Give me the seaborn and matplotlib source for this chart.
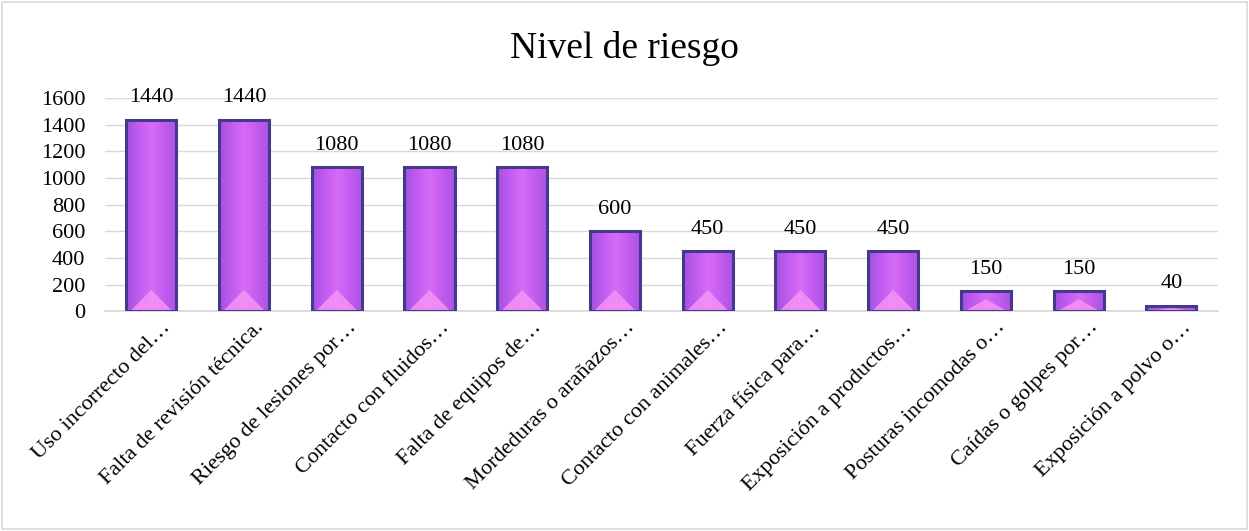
import numpy as np
import pandas as pd
import matplotlib
matplotlib.use("Agg")
import matplotlib.pyplot as plt
import matplotlib.transforms as mtransforms
from matplotlib.colors import LinearSegmentedColormap
import seaborn as sns

categories = [
    "Uso incorrecto del…",
    "Falta de revisión técnica.",
    "Riesgo de lesiones por…",
    "Contacto con fluidos…",
    "Falta de equipos de…",
    "Mordeduras o arañazos…",
    "Contacto con animales…",
    "Fuerza física para…",
    "Exposición a productos…",
    "Posturas incomodas o…",
    "Caídas o golpes por…",
    "Exposición a polvo o…",
]
values = [1440, 1440, 1080, 1080, 1080, 600, 450, 450, 450, 150, 150, 40]
title = "Nivel de riesgo"

df = pd.DataFrame({"riesgo": categories, "nivel": values})

sns.set_theme(style="white")
plt.rcParams["font.family"] = ["Liberation Serif", "DejaVu Serif"]
plt.rcParams["text.color"] = "black"

fig = plt.figure(figsize=(12.49, 5.31), dpi=100)
ax = fig.add_axes([0.084, 0.414, 0.891, 0.401])

sns.barplot(data=df, x="riesgo", y="nivel", color="#c45cf0", width=0.54,
            edgecolor="#45398c", linewidth=2.2, saturation=1, ax=ax, zorder=3)

ax.set_ylim(0, 1600)
ax.set_xlim(-0.5, len(categories) - 0.5)

# soft bevel look of the Excel bars: light centre, pink wedge at the base
grad = LinearSegmentedColormap.from_list(
    "bar", ["#9f52e2", "#c35cf0", "#d66cf6", "#c45cf0", "#a655e4"])
g = np.linspace(0, 1, 64).reshape(1, -1)
for bar in ax.patches:
    x0, y0 = bar.get_x(), bar.get_y()
    w, h = bar.get_width(), bar.get_height()
    im = ax.imshow(g, cmap=grad, aspect="auto", extent=(x0, x0 + w, y0, y0 + h),
                   zorder=3.5, interpolation="bicubic")
    im.set_clip_path(bar)
    tri_h = min(h * 0.6, 160)
    tri = plt.Polygon([(x0 + w * 0.08, y0), (x0 + w * 0.5, y0 + tri_h), (x0 + w * 0.92, y0)],
                      closed=True, facecolor="#f390f5", edgecolor="none", alpha=0.9, zorder=3.6)
    ax.add_patch(tri)
    tri.set_clip_path(bar)
    bar.set_zorder(3.7)
    bar.set_facecolor("none")

ax.set_yticks(np.arange(0, 1601, 200))
ax.yaxis.grid(True, color="#d9d9d9", linewidth=1, zorder=0)
ax.set_axisbelow(True)
for s in ["top", "right", "left"]:
    ax.spines[s].set_visible(False)
ax.spines["bottom"].set_color("#d9d9d9")
ax.tick_params(axis="y", labelsize=16, length=0, pad=14, colors="black")
ax.tick_params(axis="x", labelsize=16, length=0, pad=2, colors="black")
ax.set_xticks(range(len(categories)))
ax.set_xticklabels(categories, rotation=45, ha="right", rotation_mode="anchor")
shift = mtransforms.ScaledTranslation(10 / 100, -4 / 100, fig.dpi_scale_trans)
for lab in ax.get_xticklabels():
    lab.set_transform(lab.get_transform() + shift)
ax.set_xlabel("")
ax.set_ylabel("")

ax.bar_label(ax.containers[0], labels=[str(v) for v in values],
             padding=9, fontsize=16, color="black", clip_on=False)

fig.text(0.5, 0.908, title, ha="center", va="center", fontsize=27, color="black")

fig.patches.append(plt.Rectangle((0.002, 0.003), 0.996, 0.994, transform=fig.transFigure,
                                 fill=False, edgecolor="#d9d9d9", linewidth=1.2))

plt.savefig("out.png", dpi=100)
plt.close()
